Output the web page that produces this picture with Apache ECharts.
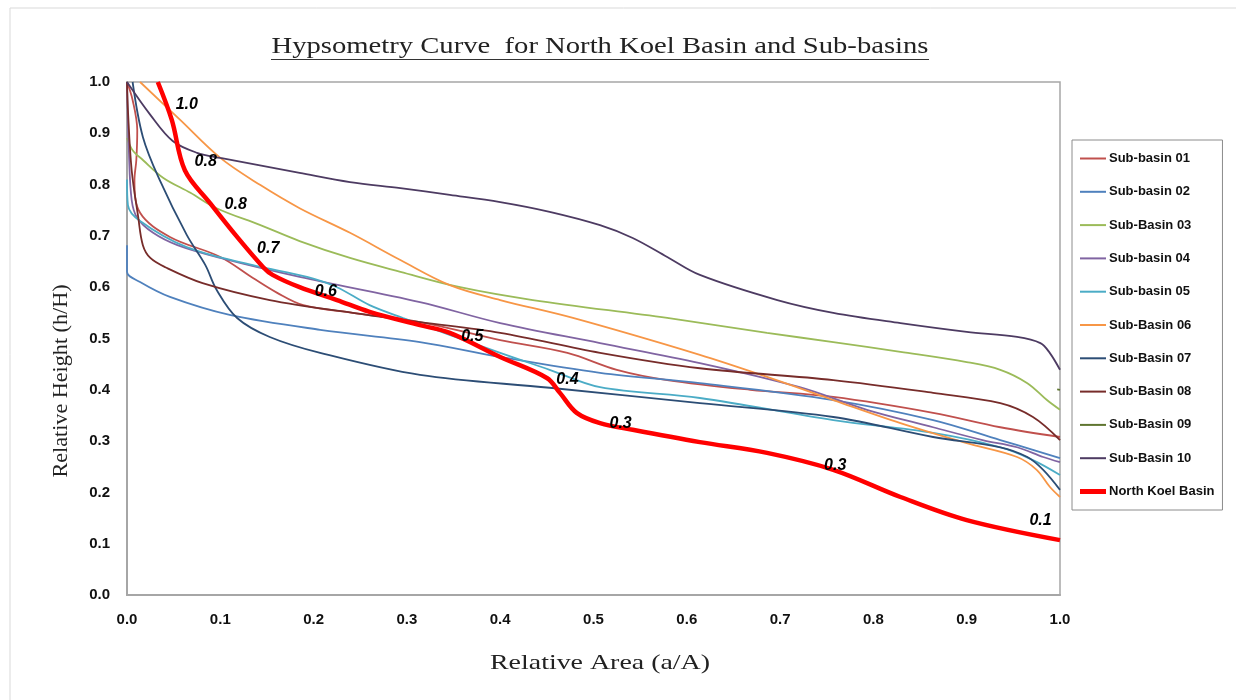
<!DOCTYPE html>
<html>
<head>
<meta charset="utf-8">
<script src="https://cdn.jsdelivr.net/npm/echarts@6/dist/echarts.min.js"></script>
<style>html,body{margin:0;padding:0;background:#fff}#c{width:1236px;height:700px}</style>
</head>
<body>
<div id="c"></div>
<script>
// ---- data (relative area a/A, relative height h/H) ----
var seriesNames = ['Sub-basin 01','Sub-basin 02','Sub-Basin 03','Sub-basin 04','Sub-basin 05','Sub-Basin 06','Sub-Basin 07','Sub-Basin 08','Sub-Basin 09','Sub-Basin 10','North Koel Basin'];
var seriesColors = ['#C0504D','#4F81BD','#9BBB59','#8064A2','#4BACC6','#F79646','#2C4D75','#772C2A','#5F7530','#4D3B62','#FF0000'];

var sb01 = [[0,1.0],[0.006,0.965],[0.011,0.906],[0.010,0.848],[0.008,0.809],[0.014,0.745],[0.046,0.698],[0.100,0.659],[0.135,0.618],[0.161,0.589],[0.189,0.565],[0.242,0.550],[0.314,0.532],[0.400,0.497],[0.472,0.472],[0.525,0.439],[0.579,0.419],[0.668,0.400],[0.757,0.386],[0.864,0.355],[0.936,0.327],[1.0,0.308]];
var sb02 = [[0,0.682],[0,0.630],[0.014,0.610],[0.046,0.581],[0.110,0.546],[0.207,0.517],[0.314,0.493],[0.400,0.464],[0.507,0.433],[0.614,0.413],[0.757,0.380],[0.864,0.341],[0.936,0.302],[0.971,0.283],[1.0,0.267]];
var sb03 = [[0,0.891],[0.006,0.867],[0.017,0.848],[0.039,0.813],[0.068,0.784],[0.096,0.754],[0.143,0.721],[0.185,0.690],[0.239,0.657],[0.293,0.630],[0.357,0.600],[0.435,0.575],[0.579,0.540],[0.686,0.511],[0.757,0.493],[0.829,0.474],[0.900,0.454],[0.936,0.439],[0.965,0.413],[0.986,0.380],[1.0,0.361]];
var sb04 = [[0,1.0],[0.002,0.867],[0.005,0.770],[0.011,0.735],[0.028,0.706],[0.054,0.682],[0.100,0.657],[0.185,0.620],[0.314,0.571],[0.400,0.530],[0.507,0.491],[0.614,0.452],[0.721,0.405],[0.793,0.361],[0.864,0.327],[0.917,0.302],[0.954,0.288],[0.982,0.269],[1.0,0.259]];
var sb05 = [[0,0.810],[0.001,0.760],[0.014,0.729],[0.064,0.678],[0.135,0.643],[0.193,0.620],[0.225,0.600],[0.260,0.565],[0.296,0.540],[0.400,0.472],[0.453,0.439],[0.507,0.405],[0.614,0.384],[0.757,0.341],[0.864,0.316],[0.936,0.288],[0.971,0.263],[1.0,0.234]];
var sb06 = [[0.014,1.0],[0.057,0.926],[0.100,0.852],[0.143,0.799],[0.185,0.754],[0.239,0.706],[0.293,0.653],[0.346,0.604],[0.400,0.575],[0.478,0.540],[0.614,0.468],[0.686,0.425],[0.757,0.380],[0.829,0.335],[0.900,0.296],[0.954,0.269],[0.975,0.244],[0.989,0.211],[1.0,0.191]];
var sb07 = [[0.006,1.0],[0.017,0.893],[0.035,0.809],[0.064,0.702],[0.084,0.643],[0.096,0.595],[0.118,0.540],[0.153,0.503],[0.207,0.472],[0.314,0.429],[0.453,0.404],[0.614,0.374],[0.757,0.347],[0.864,0.308],[0.936,0.288],[0.965,0.269],[0.982,0.244],[1.0,0.205]];
var sb08 = [[0,1.0],[0.001,0.945],[0.005,0.828],[0.012,0.737],[0.017,0.682],[0.025,0.657],[0.041,0.639],[0.081,0.608],[0.153,0.575],[0.242,0.550],[0.314,0.532],[0.400,0.511],[0.507,0.472],[0.614,0.442],[0.757,0.419],[0.864,0.394],[0.936,0.374],[0.971,0.347],[1.0,0.302]];
var sb09 = [[0.997,0.401],[1.0,0.400]];
var sb10 = [[0,1.0],[0.025,0.936],[0.049,0.885],[0.075,0.862],[0.100,0.852],[0.185,0.823],[0.239,0.805],[0.293,0.793],[0.346,0.780],[0.400,0.766],[0.453,0.747],[0.507,0.721],[0.542,0.696],[0.579,0.659],[0.614,0.624],[0.697,0.575],[0.757,0.550],[0.829,0.530],[0.900,0.513],[0.954,0.503],[0.979,0.491],[0.989,0.472],[1.0,0.439]];
var northKoel = [[0.033,1.0],[0.048,0.926],[0.062,0.828],[0.089,0.764],[0.118,0.698],[0.146,0.639],[0.156,0.624],[0.185,0.600],[0.225,0.575],[0.260,0.552],[0.314,0.526],[0.346,0.511],[0.400,0.464],[0.450,0.423],[0.464,0.394],[0.482,0.355],[0.507,0.335],[0.542,0.322],[0.614,0.298],[0.686,0.277],[0.757,0.244],[0.829,0.191],[0.900,0.146],[1.0,0.107]];

// labels written along the North Koel Basin curve
var redLabelText = ['1.0','0.8','0.8','0.7','0.6','0.5','0.4','0.3','0.3','0.1'];
var redLabelX = [0.042,0.059,0.089,0.126,0.191,0.348,0.450,0.507,0.737,0.957];
var redLabelY = [0.959,0.848,0.764,0.678,0.598,0.507,0.423,0.335,0.253,0.125];

var xTicks = ['0.0','0.1','0.2','0.3','0.4','0.5','0.6','0.7','0.8','0.9','1.0'];
var yTicks = ['0.0','0.1','0.2','0.3','0.4','0.5','0.6','0.7','0.8','0.9','1.0'];

var titleText = 'Hypsometry Curve  for North Koel Basin and Sub-basins';
var xTitle = 'Relative Area (a/A)';
var yTitle = 'Relative Height (h/H)';

// ---- helpers ----
function fitScale(text, font, target){
  var ctx = document.createElement('canvas').getContext('2d');
  ctx.font = font;
  return target / ctx.measureText(text).width;
}
var serif = '"Liberation Serif", serif';

// ---- chart ----
var allData = [sb01,sb02,sb03,sb04,sb05,sb06,sb07,sb08,sb09,sb10,northKoel];
var labelOffsets = [[0,2],[3,2],[5,2],[3,1],[0,3],[0,2],[0,2],[0,0],[0,0],[0,-10]];

var series = allData.map(function(d,i){
  var isMain = i === allData.length-1;
  return {
    name: seriesNames[i], type:'line', data:d, smooth:0.35, symbol:'none',
    lineStyle:{color:seriesColors[i], width:isMain?4.5:1.8},
    itemStyle:{color:seriesColors[i]},
    emphasis:{disabled:true}, animation:false
  };
});
series.push({
  name:'labels', type:'scatter', symbolSize:1, itemStyle:{color:'rgba(0,0,0,0)', opacity:1}, animation:false,
  data: redLabelX.map(function(x,i){
    return {value:[x, redLabelY[i]], label:{show:true, position:'right', distance:9, offset:labelOffsets[i], formatter:redLabelText[i]}};
  }),
  label:{show:true, color:'#000', opacity:1, fontSize:16, fontWeight:'bold', fontStyle:'italic', fontFamily:'Liberation Sans'},
  emphasis:{disabled:true},
  z:5
});

var legendData = seriesNames.map(function(n,i){
  var h = (i === seriesNames.length-1) ? 5 : 2;
  return {name:n, icon:'path://M0,0L26,0L26,'+h+'L0,'+h+'Z', itemStyle:{color:seriesColors[i]}};
});

var titleFont = '24px ' + serif, xFont = '22px ' + serif, yFont = '20px ' + serif;

var chart = echarts.init(document.getElementById('c'));
chart.setOption({
  backgroundColor:'#fff',
  animation:false,
  grid:{left:127, right:176, top:82, bottom:105, show:true, borderColor:'#a6a6a6', borderWidth:1.5, containLabel:false},
  xAxis:{type:'value', min:0, max:1, interval:0.1,
    axisLine:{show:true, lineStyle:{color:'#a6a6a6', width:2}}, axisTick:{show:false}, splitLine:{show:false},
    axisLabel:{margin:17, color:'#111', fontSize:15, fontWeight:'bold', fontFamily:'Liberation Sans', formatter:function(v){return xTicks[Math.round(v*10)];}}},
  yAxis:{type:'value', min:0, max:1, interval:0.1,
    axisLine:{show:true, lineStyle:{color:'#a6a6a6', width:2}}, axisTick:{show:false}, splitLine:{show:false},
    axisLabel:{margin:17, color:'#111', fontSize:15, fontWeight:'bold', fontFamily:'Liberation Sans', formatter:function(v){return yTicks[Math.round(v*10)];}}},
  legend:{orient:'vertical', left:1072, top:140, width:154, padding:[12,8,12,8], itemGap:20.3, itemWidth:26, itemHeight:14,
    borderColor:'#8c8c8c', borderWidth:1, backgroundColor:'#fff',
    data:legendData, selectedMode:false,
    textStyle:{fontSize:13, fontWeight:'bold', fontFamily:'Liberation Sans', color:'#111', padding:[0,0,0,-2]}},
  graphic:[
    {type:'rect', shape:{x:10, y:8, width:1240, height:700}, style:{fill:'none', stroke:'#d9d9d9', lineWidth:1}, silent:true, z:-10},
    {type:'text', x:600, y:47, scaleX:fitScale(titleText,titleFont,657), style:{text:titleText, font:titleFont, fill:'#222', align:'center', verticalAlign:'middle'}},
    {type:'line', shape:{x1:271, y1:59.5, x2:929, y2:59.5}, style:{stroke:'#333', lineWidth:1.2}},
    {type:'text', x:600, y:663, scaleX:fitScale(xTitle,xFont,220), style:{text:xTitle, font:xFont, fill:'#222', align:'center', verticalAlign:'middle'}},
    {type:'text', x:62, y:381, rotation:Math.PI/2, scaleX:fitScale(yTitle,yFont,193), style:{text:yTitle, font:yFont, fill:'#222', align:'center', verticalAlign:'middle'}}
  ],
  series:series
});
</script>
</body>
</html>
